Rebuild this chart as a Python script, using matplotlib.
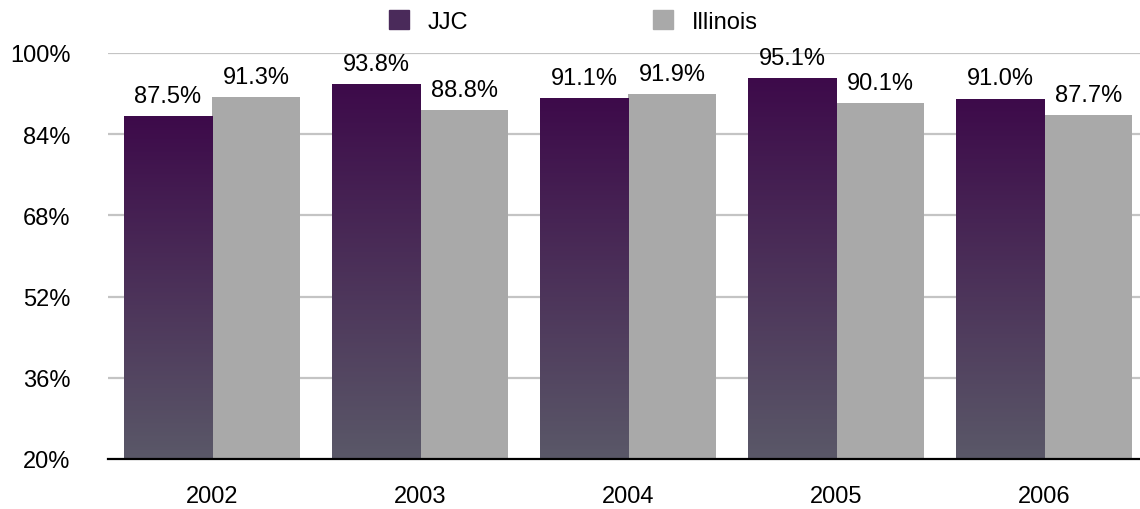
import matplotlib
matplotlib.use("Agg")
import matplotlib.pyplot as plt
import numpy as np
from matplotlib.patches import Patch
from matplotlib.colors import LinearSegmentedColormap

years = ["2002", "2003", "2004", "2005", "2006"]
jjc = [87.5, 93.8, 91.1, 95.1, 91.0]
illinois = [91.3, 88.8, 91.9, 90.1, 87.7]
yticks = [20, 36, 52, 68, 84, 100]

plt.rcParams['font.family'] = ['Liberation Sans', 'DejaVu Sans']
fs = 17

fig = plt.figure(figsize=(11.4, 5.1), dpi=100)
ax = fig.add_axes([108 / 1140, 50 / 510, 1 - 108 / 1140, 406 / 510])

x = np.arange(len(years))
w = 0.423
grad = LinearSegmentedColormap.from_list("jjc", ["#5a5868", "#3d0a4a"])

# gridlines
for t in yticks[1:]:
    ax.axhline(t, color="#c4c4c4", lw=1.6, zorder=0)

bars_j = ax.bar(x - w / 2, [v - 20 for v in jjc], w, bottom=20, color="none", zorder=2)
bars_i = ax.bar(x + w / 2, [v - 20 for v in illinois], w, bottom=20, color="#a9a9a9", zorder=2)

# gradient fill for JJC bars
g = np.linspace(0, 1, 256).reshape(-1, 1)
for b in bars_j:
    x0, y0 = b.get_x(), b.get_y()
    im = ax.imshow(g, cmap=grad, origin="lower", aspect="auto",
                   extent=[x0, x0 + b.get_width(), y0, y0 + b.get_height()], zorder=2)
    im.set_clip_path(b)

for b, v in zip(bars_j, jjc):
    ax.text(b.get_x() + b.get_width() / 2, v + 4.0, f"{v:.1f}%", ha="center", va="center", fontsize=fs)
for b, v in zip(bars_i, illinois):
    ax.text(b.get_x() + b.get_width() / 2, v + 4.0, f"{v:.1f}%", ha="center", va="center", fontsize=fs)

ax.set_xlim(-0.5, 4.46)
ax.set_ylim(20, 100)
ax.set_yticks(yticks)
ax.set_yticklabels([f"{t}%" for t in yticks])
ax.set_xticks(x)
ax.set_xticklabels(years)
ax.tick_params(axis="both", length=0, labelsize=fs)
ax.tick_params(axis="y", pad=27)
ax.tick_params(axis="x", pad=19)
for s in ["top", "right", "left"]:
    ax.spines[s].set_visible(False)
ax.spines["bottom"].set_linewidth(1.6)
ax.spines["bottom"].set_zorder(3)

handles = [Patch(color="#4a2a5a", label="JJC"), Patch(color="#a9a9a9", label="Illinois")]
fig.legend(handles=handles, loc="upper center", bbox_to_anchor=(0.503, 1.02), ncol=2,
           frameon=False, fontsize=fs, handlelength=0.85, handleheight=0.85,
           handletextpad=0.8, columnspacing=7.8)

fig.savefig("out.png", dpi=100)
